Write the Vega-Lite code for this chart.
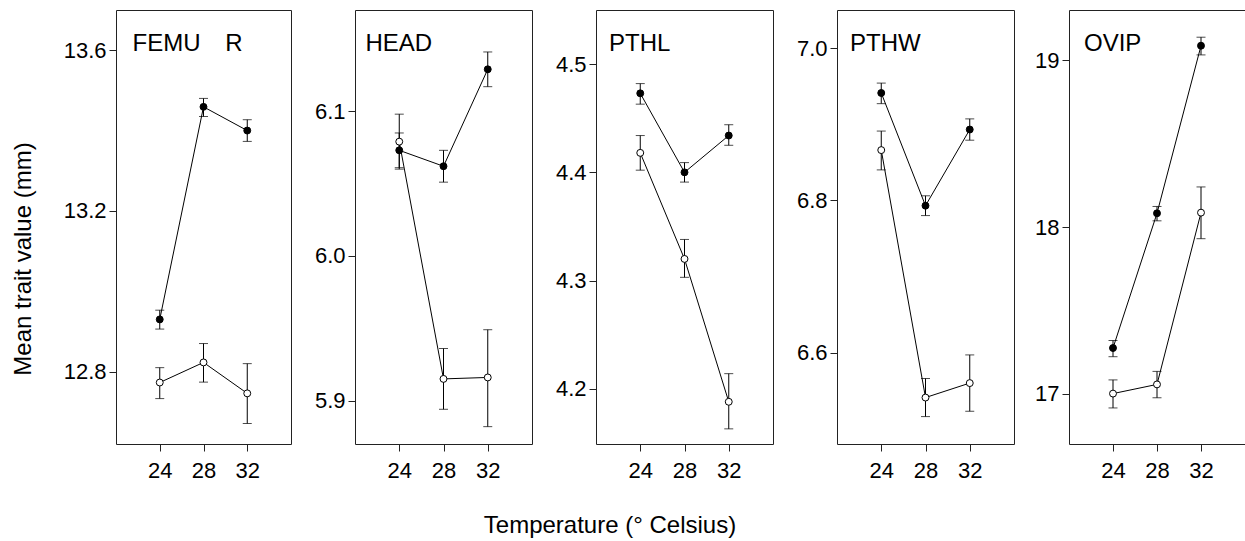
{
  "$schema": "https://vega.github.io/schema/vega-lite/v6.json",
  "background": "white",
  "padding": {"left": 10, "top": 9, "right": 0, "bottom": 0},
  "datasets": {
    "d": [
      {"panel": "FEMUR", "temp": 24, "group": "filled", "mean": 12.930, "lo": 12.906, "hi": 12.953},
      {"panel": "FEMUR", "temp": 28, "group": "filled", "mean": 13.459, "lo": 13.435, "hi": 13.480},
      {"panel": "FEMUR", "temp": 32, "group": "filled", "mean": 13.400, "lo": 13.373, "hi": 13.427},
      {"panel": "FEMUR", "temp": 24, "group": "open", "mean": 12.773, "lo": 12.733, "hi": 12.810},
      {"panel": "FEMUR", "temp": 28, "group": "open", "mean": 12.823, "lo": 12.774, "hi": 12.870},
      {"panel": "FEMUR", "temp": 32, "group": "open", "mean": 12.746, "lo": 12.671, "hi": 12.820},
      {"panel": "HEAD", "temp": 24, "group": "filled", "mean": 6.073, "lo": 6.061, "hi": 6.085},
      {"panel": "HEAD", "temp": 28, "group": "filled", "mean": 6.062, "lo": 6.051, "hi": 6.073},
      {"panel": "HEAD", "temp": 32, "group": "filled", "mean": 6.129, "lo": 6.117, "hi": 6.141},
      {"panel": "HEAD", "temp": 24, "group": "open", "mean": 6.079, "lo": 6.060, "hi": 6.098},
      {"panel": "HEAD", "temp": 28, "group": "open", "mean": 5.915, "lo": 5.894, "hi": 5.936},
      {"panel": "HEAD", "temp": 32, "group": "open", "mean": 5.916, "lo": 5.882, "hi": 5.949},
      {"panel": "PTHL", "temp": 24, "group": "filled", "mean": 4.473, "lo": 4.463, "hi": 4.482},
      {"panel": "PTHL", "temp": 28, "group": "filled", "mean": 4.400, "lo": 4.391, "hi": 4.409},
      {"panel": "PTHL", "temp": 32, "group": "filled", "mean": 4.434, "lo": 4.425, "hi": 4.444},
      {"panel": "PTHL", "temp": 24, "group": "open", "mean": 4.418, "lo": 4.402, "hi": 4.434},
      {"panel": "PTHL", "temp": 28, "group": "open", "mean": 4.320, "lo": 4.303, "hi": 4.338},
      {"panel": "PTHL", "temp": 32, "group": "open", "mean": 4.188, "lo": 4.163, "hi": 4.214},
      {"panel": "PTHW", "temp": 24, "group": "filled", "mean": 6.941, "lo": 6.927, "hi": 6.954},
      {"panel": "PTHW", "temp": 28, "group": "filled", "mean": 6.793, "lo": 6.780, "hi": 6.806},
      {"panel": "PTHW", "temp": 32, "group": "filled", "mean": 6.893, "lo": 6.879, "hi": 6.907},
      {"panel": "PTHW", "temp": 24, "group": "open", "mean": 6.866, "lo": 6.840, "hi": 6.891},
      {"panel": "PTHW", "temp": 28, "group": "open", "mean": 6.541, "lo": 6.516, "hi": 6.566},
      {"panel": "PTHW", "temp": 32, "group": "open", "mean": 6.560, "lo": 6.523, "hi": 6.597},
      {"panel": "OVIP", "temp": 24, "group": "filled", "mean": 17.275, "lo": 17.223, "hi": 17.320},
      {"panel": "OVIP", "temp": 28, "group": "filled", "mean": 18.082, "lo": 18.037, "hi": 18.123},
      {"panel": "OVIP", "temp": 32, "group": "filled", "mean": 19.086, "lo": 19.031, "hi": 19.137},
      {"panel": "OVIP", "temp": 24, "group": "open", "mean": 17.002, "lo": 16.916, "hi": 17.084},
      {"panel": "OVIP", "temp": 28, "group": "open", "mean": 17.057, "lo": 16.977, "hi": 17.135},
      {"panel": "OVIP", "temp": 32, "group": "open", "mean": 18.086, "lo": 17.930, "hi": 18.240}
    ]
  },
  "title": {
    "text": "Temperature (° Celsius)",
    "orient": "bottom",
    "anchor": "middle",
    "frame": "bounds",
    "baseline": "alphabetic",
    "offset": 51,
    "dx": -18,
    "fontSize": 24
  },
  "spacing": 13,
  "hconcat": [
    {
      "width": 175, "height": 434,
      "data": {"name": "d"},
      "transform": [{"filter": "datum.panel === 'FEMUR'"}],
      "title": {"text": "FEMU\u00a0\u00a0\u00a0\u2009R", "anchor": "start", "frame": "group", "orient": "top", "offset": -65.4, "dx": 16.5, "baseline": "alphabetic", "fontSize": 24},
      "encoding": {
        "x": {"field": "temp", "type": "quantitative", "scale": {"domain": [20, 36], "nice": false, "zero": false}, "axis": {"values": [24, 28, 32], "labelPadding": 9.5, "title": null}}
      },
      "layer": [
        {"mark": {"type": "line", "color": "black", "strokeWidth": 1}, "encoding": {"y": {"field": "mean", "type": "quantitative", "scale": {"domain": [12.62, 13.70], "nice": false, "zero": false}, "axis": {"values": [12.8, 13.2, 13.6], "format": ".1f", "title": "Mean trait value (mm)", "titlePadding": 22, "titleY": 248.5, "minExtent": 59}}, "detail": {"field": "group"}}},
        {"mark": {"type": "rule", "color": "black", "strokeWidth": 1}, "encoding": {"y": {"field": "lo", "type": "quantitative"}, "y2": {"field": "hi"}}},
        {"mark": {"type": "tick", "orient": "horizontal", "color": "black", "size": 9, "thickness": 1}, "encoding": {"y": {"field": "lo", "type": "quantitative"}}},
        {"mark": {"type": "tick", "orient": "horizontal", "color": "black", "size": 9, "thickness": 1}, "encoding": {"y": {"field": "hi", "type": "quantitative"}}},
        {"mark": {"type": "point", "shape": "circle", "filled": true, "size": 48, "stroke": "black", "strokeWidth": 1, "opacity": 1}, "encoding": {"y": {"field": "mean", "type": "quantitative"}, "fill": {"field": "group", "type": "nominal", "scale": {"domain": ["filled", "open"], "range": ["black", "white"]}, "legend": null}}}
      ]
    },
    {
      "width": 177, "height": 434,
      "data": {"name": "d"},
      "transform": [{"filter": "datum.panel === 'HEAD'"}],
      "title": {"text": "HEAD", "anchor": "start", "frame": "group", "orient": "top", "offset": -65.4, "dx": 10.5, "baseline": "alphabetic", "fontSize": 24},
      "encoding": {
        "x": {"field": "temp", "type": "quantitative", "scale": {"domain": [20, 36], "nice": false, "zero": false}, "axis": {"values": [24, 28, 32], "labelPadding": 9.5, "title": null}}
      },
      "layer": [
        {"mark": {"type": "line", "color": "black", "strokeWidth": 1}, "encoding": {"y": {"field": "mean", "type": "quantitative", "scale": {"domain": [5.870, 6.170], "nice": false, "zero": false}, "axis": {"values": [5.9, 6.0, 6.1], "format": ".1f", "title": null, "minExtent": 49.3}}, "detail": {"field": "group"}}},
        {"mark": {"type": "rule", "color": "black", "strokeWidth": 1}, "encoding": {"y": {"field": "lo", "type": "quantitative"}, "y2": {"field": "hi"}}},
        {"mark": {"type": "tick", "orient": "horizontal", "color": "black", "size": 9, "thickness": 1}, "encoding": {"y": {"field": "lo", "type": "quantitative"}}},
        {"mark": {"type": "tick", "orient": "horizontal", "color": "black", "size": 9, "thickness": 1}, "encoding": {"y": {"field": "hi", "type": "quantitative"}}},
        {"mark": {"type": "point", "shape": "circle", "filled": true, "size": 48, "stroke": "black", "strokeWidth": 1, "opacity": 1}, "encoding": {"y": {"field": "mean", "type": "quantitative"}, "fill": {"field": "group", "type": "nominal", "scale": {"domain": ["filled", "open"], "range": ["black", "white"]}, "legend": null}}}
      ]
    },
    {
      "width": 177, "height": 434,
      "data": {"name": "d"},
      "transform": [{"filter": "datum.panel === 'PTHL'"}],
      "title": {"text": "PTHL", "anchor": "start", "frame": "group", "orient": "top", "offset": -65.4, "dx": 13, "baseline": "alphabetic", "fontSize": 24},
      "encoding": {
        "x": {"field": "temp", "type": "quantitative", "scale": {"domain": [20, 36], "nice": false, "zero": false}, "axis": {"values": [24, 28, 32], "labelPadding": 9.5, "title": null}}
      },
      "layer": [
        {"mark": {"type": "line", "color": "black", "strokeWidth": 1}, "encoding": {"y": {"field": "mean", "type": "quantitative", "scale": {"domain": [4.149, 4.550], "nice": false, "zero": false}, "axis": {"values": [4.2, 4.3, 4.4, 4.5], "format": ".1f", "title": null, "minExtent": 49.3}}, "detail": {"field": "group"}}},
        {"mark": {"type": "rule", "color": "black", "strokeWidth": 1}, "encoding": {"y": {"field": "lo", "type": "quantitative"}, "y2": {"field": "hi"}}},
        {"mark": {"type": "tick", "orient": "horizontal", "color": "black", "size": 9, "thickness": 1}, "encoding": {"y": {"field": "lo", "type": "quantitative"}}},
        {"mark": {"type": "tick", "orient": "horizontal", "color": "black", "size": 9, "thickness": 1}, "encoding": {"y": {"field": "hi", "type": "quantitative"}}},
        {"mark": {"type": "point", "shape": "circle", "filled": true, "size": 48, "stroke": "black", "strokeWidth": 1, "opacity": 1}, "encoding": {"y": {"field": "mean", "type": "quantitative"}, "fill": {"field": "group", "type": "nominal", "scale": {"domain": ["filled", "open"], "range": ["black", "white"]}, "legend": null}}}
      ]
    },
    {
      "width": 177, "height": 434,
      "data": {"name": "d"},
      "transform": [{"filter": "datum.panel === 'PTHW'"}],
      "title": {"text": "PTHW", "anchor": "start", "frame": "group", "orient": "top", "offset": -65.4, "dx": 13, "baseline": "alphabetic", "fontSize": 24},
      "encoding": {
        "x": {"field": "temp", "type": "quantitative", "scale": {"domain": [20, 36], "nice": false, "zero": false}, "axis": {"values": [24, 28, 32], "labelPadding": 9.5, "title": null}}
      },
      "layer": [
        {"mark": {"type": "line", "color": "black", "strokeWidth": 1}, "encoding": {"y": {"field": "mean", "type": "quantitative", "scale": {"domain": [6.480, 7.050], "nice": false, "zero": false}, "axis": {"values": [6.6, 6.8, 7.0], "format": ".1f", "title": null, "minExtent": 49.3}}, "detail": {"field": "group"}}},
        {"mark": {"type": "rule", "color": "black", "strokeWidth": 1}, "encoding": {"y": {"field": "lo", "type": "quantitative"}, "y2": {"field": "hi"}}},
        {"mark": {"type": "tick", "orient": "horizontal", "color": "black", "size": 9, "thickness": 1}, "encoding": {"y": {"field": "lo", "type": "quantitative"}}},
        {"mark": {"type": "tick", "orient": "horizontal", "color": "black", "size": 9, "thickness": 1}, "encoding": {"y": {"field": "hi", "type": "quantitative"}}},
        {"mark": {"type": "point", "shape": "circle", "filled": true, "size": 48, "stroke": "black", "strokeWidth": 1, "opacity": 1}, "encoding": {"y": {"field": "mean", "type": "quantitative"}, "fill": {"field": "group", "type": "nominal", "scale": {"domain": ["filled", "open"], "range": ["black", "white"]}, "legend": null}}}
      ]
    },
    {
      "width": 176, "height": 434,
      "data": {"name": "d"},
      "transform": [{"filter": "datum.panel === 'OVIP'"}],
      "title": {"text": "OVIP", "anchor": "start", "frame": "group", "orient": "top", "offset": -65.4, "dx": 15, "baseline": "alphabetic", "fontSize": 24},
      "encoding": {
        "x": {"field": "temp", "type": "quantitative", "scale": {"domain": [20, 36], "nice": false, "zero": false}, "axis": {"values": [24, 28, 32], "labelPadding": 9.5, "title": null}}
      },
      "layer": [
        {"mark": {"type": "line", "color": "black", "strokeWidth": 1}, "encoding": {"y": {"field": "mean", "type": "quantitative", "scale": {"domain": [16.70, 19.30], "nice": false, "zero": false}, "axis": {"values": [17, 18, 19], "format": "d", "title": null, "minExtent": 40}}, "detail": {"field": "group"}}},
        {"mark": {"type": "rule", "color": "black", "strokeWidth": 1}, "encoding": {"y": {"field": "lo", "type": "quantitative"}, "y2": {"field": "hi"}}},
        {"mark": {"type": "tick", "orient": "horizontal", "color": "black", "size": 9, "thickness": 1}, "encoding": {"y": {"field": "lo", "type": "quantitative"}}},
        {"mark": {"type": "tick", "orient": "horizontal", "color": "black", "size": 9, "thickness": 1}, "encoding": {"y": {"field": "hi", "type": "quantitative"}}},
        {"mark": {"type": "point", "shape": "circle", "filled": true, "size": 48, "stroke": "black", "strokeWidth": 1, "opacity": 1}, "encoding": {"y": {"field": "mean", "type": "quantitative"}, "fill": {"field": "group", "type": "nominal", "scale": {"domain": ["filled", "open"], "range": ["black", "white"]}, "legend": null}}}
      ]
    }
  ],
  "config": {
    "font": "Liberation Sans",
    "view": {"stroke": "#222222", "strokeWidth": 1},
    "axis": {
      "grid": false,
      "domain": false,
      "ticks": true,
      "tickColor": "#222222",
      "tickSize": 7,
      "tickWidth": 1,
      "labelFont": "Liberation Sans",
      "labelFontSize": 22,
      "labelColor": "black",
      "labelPadding": 3,
      "titleFont": "Liberation Sans",
      "titleFontSize": 24,
      "titleFontWeight": "normal",
      "titleColor": "black"
    },
    "title": {"font": "Liberation Sans", "fontWeight": "normal", "fontSize": 24, "color": "black"}
  }
}
